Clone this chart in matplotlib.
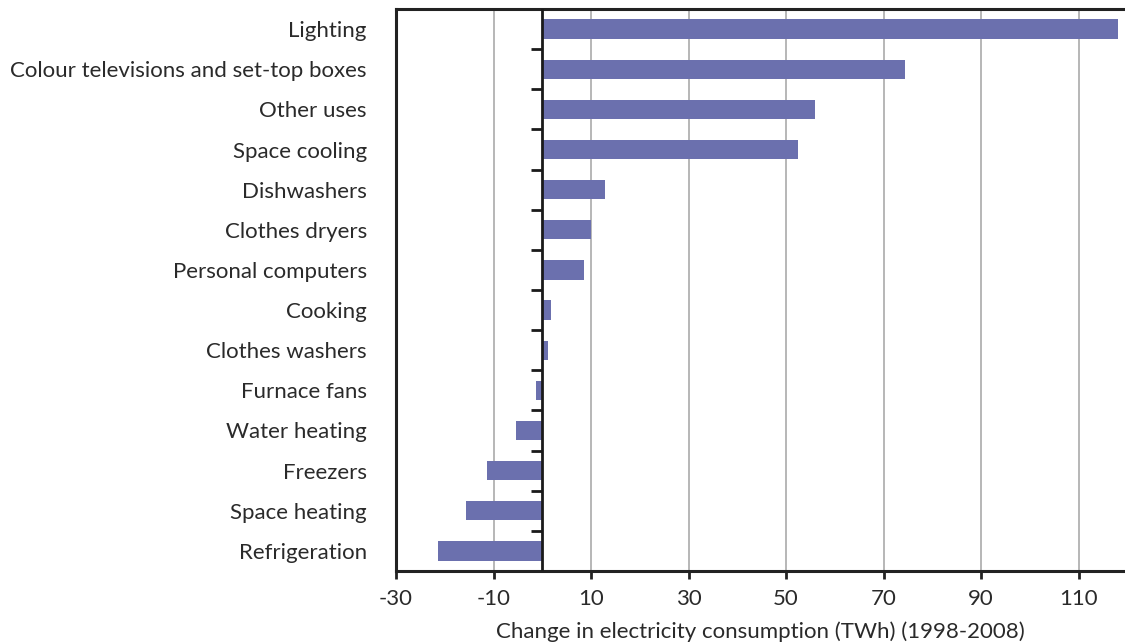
import numpy as np
import matplotlib
matplotlib.use("Agg")
import matplotlib.pyplot as plt
from matplotlib.lines import TICKLEFT

plt.rcParams['font.family'] = ['Lato', 'DejaVu Sans']

categories = ["Lighting", "Colour televisions and set-top boxes", "Other uses",
              "Space cooling", "Dishwashers", "Clothes dryers", "Personal computers",
              "Cooking", "Clothes washers", "Furnace fans", "Water heating",
              "Freezers", "Space heating", "Refrigeration"]
values = [118.1, 74.3, 55.9, 52.4, 12.9, 10.0, 8.6, 1.8, 1.2, -1.2, -5.3, -11.3, -15.6, -21.3]
xticks = [-30, -10, 10, 30, 50, 70, 90, 110]

bar_color = "#6b70ae"
text_color = "#2a2a2a"

fig = plt.figure(figsize=(11.25, 6.44), dpi=100)
ax = fig.add_axes([0.352, 0.1134, 0.648, 0.8726])

y = np.arange(len(categories))
ax.barh(y, values, height=0.48, color=bar_color, zorder=3)

ax.set_ylim(len(categories) - 0.5, -0.5)
ax.set_xlim(-30, 119.5)
ax.set_xticks(xticks)
ax.set_xticklabels([str(t) for t in xticks], fontsize=16, color=text_color)
ax.set_yticks(y)
ax.set_yticklabels(categories, fontsize=16, color=text_color)
ax.tick_params(axis='y', length=0, pad=21)
ax.tick_params(axis='x', direction='out', length=6, width=2, color="#222222", pad=7)

# grid
ax.grid(axis='x', color="#aaaaaa", lw=1.2, zorder=1)

# zero line with small category ticks
ax.axvline(0, color="#1a1a1a", lw=2, zorder=4)
ax.plot(np.zeros(len(categories) - 1), y[:-1] + 0.5, ls='none', marker=TICKLEFT,
        markersize=8, mew=2, color="#1a1a1a", zorder=4)

for s in ['left', 'top', 'bottom']:
    ax.spines[s].set_linewidth(2.2)
    ax.spines[s].set_color("#222222")
ax.spines['right'].set_visible(False)

ax.set_xlabel("Change in electricity consumption (TWh) (1998-2008)", fontsize=16,
              color=text_color, labelpad=9)

fig.savefig("out.png", dpi=100)
